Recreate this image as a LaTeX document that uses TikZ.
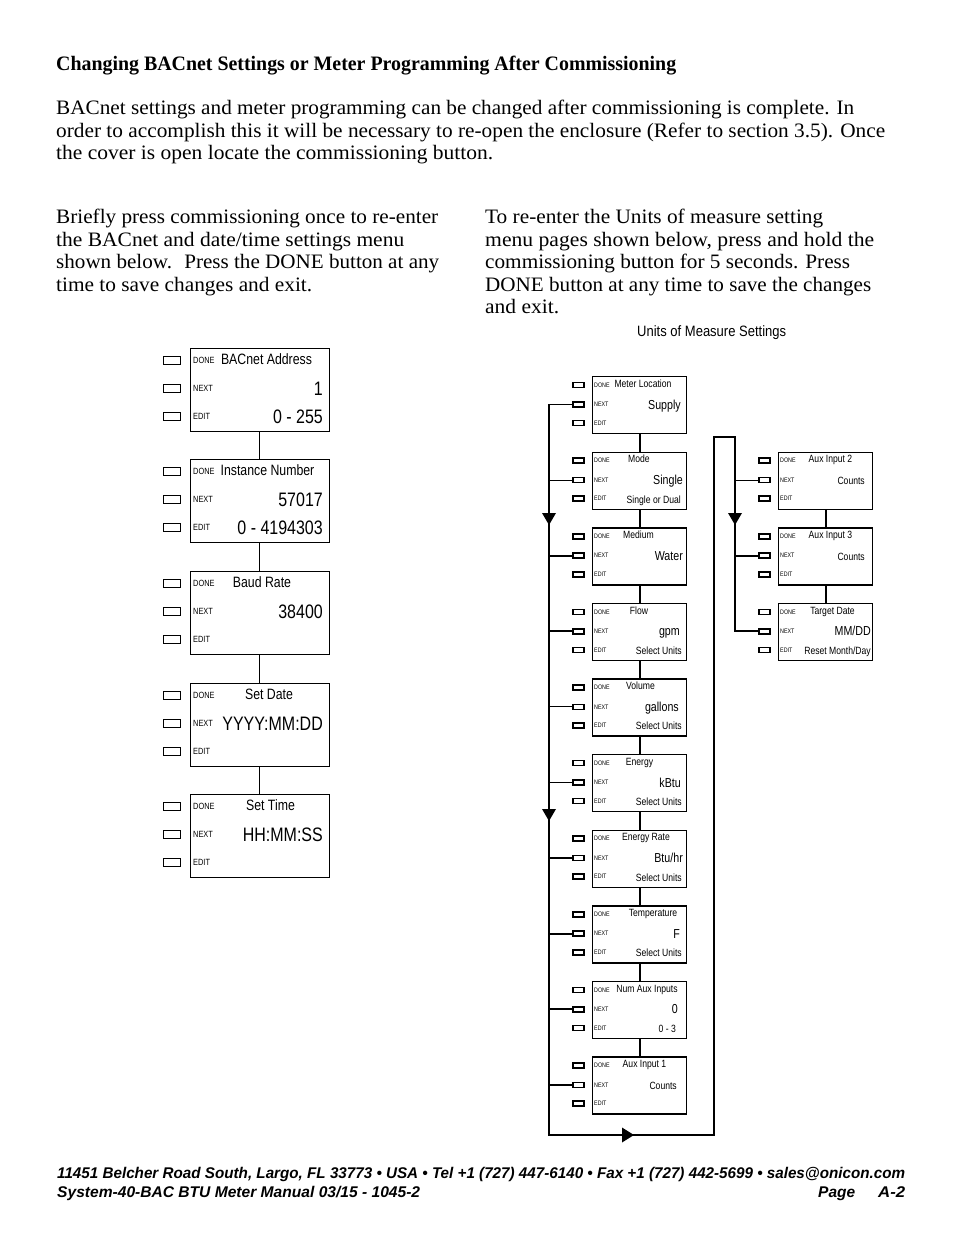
\documentclass[tikz,border=0pt]{standalone}
\usepackage{fontspec}
\usepackage{graphicx}
\setmainfont{Liberation Serif}
\newfontfamily\nar[FakeStretch=0.82]{Liberation Sans}
\newfontfamily\ftfont{Liberation Sans}
\newcommand\fsz[1]{\fontsize{#1}{#1}\selectfont}
\tikzset{
  lbox/.style={draw, line width=0.8pt, minimum width=139pt, minimum height=83pt, inner sep=0pt, anchor=north west},
  lbtn/.style={draw, line width=0.7pt, minimum width=17pt, minimum height=8pt, inner sep=0pt},
  rbox/.style={draw, line width=1.4pt, minimum width=94pt, minimum height=57pt, inner sep=0pt, anchor=north west},
  rbtn/.style={draw, line width=1.6pt, minimum width=11pt, minimum height=5pt, inner sep=0pt},
  ltag/.style={font=\nar\fsz{9}, anchor=west, inner sep=0pt},
  rtag/.style={font=\nar\fsz{6.5}, anchor=west, inner sep=0pt},
  ltitle/.style={font=\nar\fsz{15}, anchor=base, inner sep=0pt},
  lval/.style={font=\nar\fsz{19.5}, anchor=base east, inner sep=0pt},
  rtitle/.style={font=\nar\fsz{10.5}, anchor=base, inner sep=0pt},
  rval/.style={anchor=base east, inner sep=0pt},
  rsub/.style={font=\nar\fsz{10.5}, anchor=base east, inner sep=0pt},
  lconn/.style={line width=0.9pt},
  rconn/.style={line width=2.2pt},
  trunk/.style={line width=1.8pt, line join=miter},
  thinbr/.style={line width=1pt},
  thickbr/.style={line width=1.8pt},
  txt/.style={anchor=base west, inner sep=0pt},
}
% left box: name, top, title, title x, value row2, value row3
\newcommand\mkL[6]{%
  \node[lbox] (#1) at (190,#2) {};
  \node[lbtn] (#1d) at (171.5,{#2+12}) {};
  \node[lbtn] (#1n) at (171.5,{#2+40}) {};
  \node[lbtn] (#1e) at (171.5,{#2+68}) {};
  \node[ltag] (#1td) at (193,{#2+12}) {DONE};
  \node[ltag] (#1tn) at (193,{#2+40}) {NEXT};
  \node[ltag] (#1te) at (193,{#2+68}) {EDIT};
  \node[ltitle] (#1ti) at (#4,{#2+16}) {#3};
  \node[lval] (#1v) at (323,{#2+47}) {#5};
  \node[lval] (#1w) at (323,{#2+75}) {#6};
}
% right box: name, top, title, title x, value, value size, value x, sub, sub x
\def\bx{592}
\newcommand\mkR[9]{%
  \node[rbox] (#1) at (\bx,#2) {};
  \node[rbtn] (#1d) at ({\bx-13.5},{#2+9}) {};
  \node[rbtn] (#1n) at ({\bx-13.5},{#2+28.5}) {};
  \node[rbtn] (#1e) at ({\bx-13.5},{#2+47}) {};
  \node[rtag] (#1td) at ({\bx+2},{#2+9}) {DONE};
  \node[rtag] (#1tn) at ({\bx+2},{#2+28.5}) {NEXT};
  \node[rtag] (#1te) at ({\bx+2},{#2+47}) {EDIT};
  \node[rtitle] (#1ti) at (#4,{#2+11.3}) {#3};
  \node[rval, font=\nar\fsz{#6}] (#1v) at (#7,{#2+33}) {#5};
  \node[rsub] (#1s) at (#9,{#2+51.5}) {#8};
}
\newcommand\txline[5]{\node[txt] (#1) at (#2,#3) {\resizebox{#4pt}{\height}{#5}};}
\begin{document}
\begin{tikzpicture}[x=1pt,y=-1pt]
\useasboundingbox[fill=white] (0,0) rectangle (954,1235);

% ---------- text ----------
\begin{scope}[every node/.append style={font=\fsz{20.5}}]
\txline{h1}{56}{70}{620}{\bfseries Changing BACnet Settings or Meter Programming After Commissioning}
\txline{p1}{56}{114.5}{798}{BACnet settings and meter programming can be changed after commissioning is complete. In}
\txline{p2}{56}{137}{829}{order to accomplish this it will be necessary to re-open the enclosure (Refer to section 3.5). Once}
\txline{p3}{56}{159.5}{437}{the cover is open locate the commissioning button.}
\txline{q1}{56}{223.5}{382}{Briefly press commissioning once to re-enter}
\txline{q2}{56}{246}{348}{the BACnet and date/time settings menu}
\txline{q3}{56}{268.5}{383}{shown below.~ Press the DONE button at any}
\txline{q4}{56}{291}{256}{time to save changes and exit.}
\txline{s1}{485}{223.5}{338}{To re-enter the Units of measure setting}
\txline{s2}{485}{246}{389}{menu pages shown below, press and hold the}
\txline{s3}{485}{268.5}{365}{commissioning button for 5 seconds. Press}
\txline{s4}{485}{291}{386}{DONE button at any time to save the changes}
\txline{s5}{485}{313.5}{74}{and exit.}
\end{scope}
\txline{um}{637}{336.5}{149}{\nar\fsz{15}Units of Measure Settings}

\begin{scope}[every node/.append style={font=\ftfont\bfseries\itshape\fsz{15.5}}]
\txline{f1}{57}{1178.5}{848}{11451 Belcher Road South, Largo, FL 33773 • USA • Tel +1 (727) 447-6140 • Fax +1 (727) 442-5699 • sales@onicon.com}
\txline{f2}{57}{1197}{363}{System-40-BAC BTU Meter Manual 03/15 - 1045-2}
\txline{f3}{818}{1197}{37}{Page}
\txline{f4}{878}{1197}{27}{A-2}
\end{scope}

% ---------- left column ----------
\mkL{L1}{348}{BACnet Address}{266.5}{1}{0 - 255}
\mkL{L2}{459}{Instance Number}{267.5}{57017}{0 - 4194303}
\mkL{L3}{571}{Baud Rate}{262}{38400}{}
\mkL{L4}{683}{Set Date}{269}{YYYY:MM:DD}{}
\mkL{L5}{794}{Set Time}{270.5}{HH:MM:SS}{}
\draw[lconn] (L1.south) -- (L2.north);
\draw[lconn] (L2.south) -- (L3.north);
\draw[lconn] (L3.south) -- (L4.north);
\draw[lconn] (L4.south) -- (L5.north);

% ---------- right column ----------
\def\bx{592}
\mkR{R1}{376}{Meter Location}{643}{Supply}{13}{681}{}{682}
\mkR{R2}{451.6}{Mode}{639}{Single}{13}{683}{Single or Dual}{681}
\mkR{R3}{527.2}{Medium}{638.5}{Water}{13}{683}{}{682}
\mkR{R4}{602.8}{Flow}{639}{gpm}{13}{680}{Select Units}{682}
\mkR{R5}{678.4}{Volume}{640.5}{gallons}{13}{679}{Select Units}{682}
\mkR{R6}{754}{Energy}{639.5}{kBtu}{13}{681}{Select Units}{682}
\mkR{R7}{829.6}{Energy Rate}{646}{Btu/hr}{13}{683}{Select Units}{682}
\mkR{R8}{905.2}{Temperature}{653}{F}{13}{680}{Select Units}{682}
\mkR{R9}{980.8}{Num Aux Inputs}{647}{0}{13}{678}{0 - 3}{676}
\mkR{R10}{1056.4}{Aux Input 1}{644.5}{Counts}{10.5}{677}{}{682}
\def\bx{778}
\mkR{A1}{451.6}{Aux Input 2}{830.5}{Counts}{10.5}{865}{}{871}
\mkR{A2}{527.2}{Aux Input 3}{830.5}{Counts}{10.5}{865}{}{871}
\mkR{A3}{602.8}{Target Date}{832.5}{MM/DD}{13}{871}{Reset Month/Day}{871}

\draw[rconn] (R1.south) -- (R2.north);
\draw[rconn] (R2.south) -- (R3.north);
\draw[rconn] (R3.south) -- (R4.north);
\draw[rconn] (R4.south) -- (R5.north);
\draw[rconn] (R5.south) -- (R6.north);
\draw[rconn] (R6.south) -- (R7.north);
\draw[rconn] (R7.south) -- (R8.north);
\draw[rconn] (R8.south) -- (R9.north);
\draw[rconn] (R9.south) -- (R10.north);
\draw[rconn] (A1.south) -- (A2.north);
\draw[rconn] (A2.south) -- (A3.north);

% ---------- loop ----------
\coordinate (tl) at (549,1135);
\coordinate (tr) at (714,1135);
\coordinate (tt) at (714,437);
\coordinate (ta) at (735,437);
\draw[trunk] (R1n.west) -| (tl) -- (tr) -- (tt) -- (ta) |- (A3n.west);
\draw[thinbr] (R2n.west) -- (R2n.west -| tl);
\draw[thickbr] (R3n.west) -- (R3n.west -| tl);
\draw[thickbr] (R4n.west) -- (R4n.west -| tl);
\draw[thinbr] (R5n.west) -- (R5n.west -| tl);
\draw[thickbr] (R6n.west) -- (R6n.west -| tl);
\draw[thickbr] (R7n.west) -- (R7n.west -| tl);
\draw[thickbr] (R8n.west) -- (R8n.west -| tl);
\draw[thickbr] (R9n.west) -- (R9n.west -| tl);
\draw[thickbr] (R10n.west) -- (R10n.west -| tl);
\draw[thinbr] (A1n.west) -- (A1n.west -| ta);
\draw[thickbr] (A2n.west) -- (A2n.west -| ta);

% arrowheads
\fill (542,513) -- (556,513) -- (549,525) -- cycle;
\fill (542,809) -- (556,809) -- (549,821) -- cycle;
\fill (728,513) -- (742,513) -- (735,525) -- cycle;
\fill (622,1127.5) -- (622,1142.5) -- (634,1135) -- cycle;
\end{tikzpicture}
\end{document}
